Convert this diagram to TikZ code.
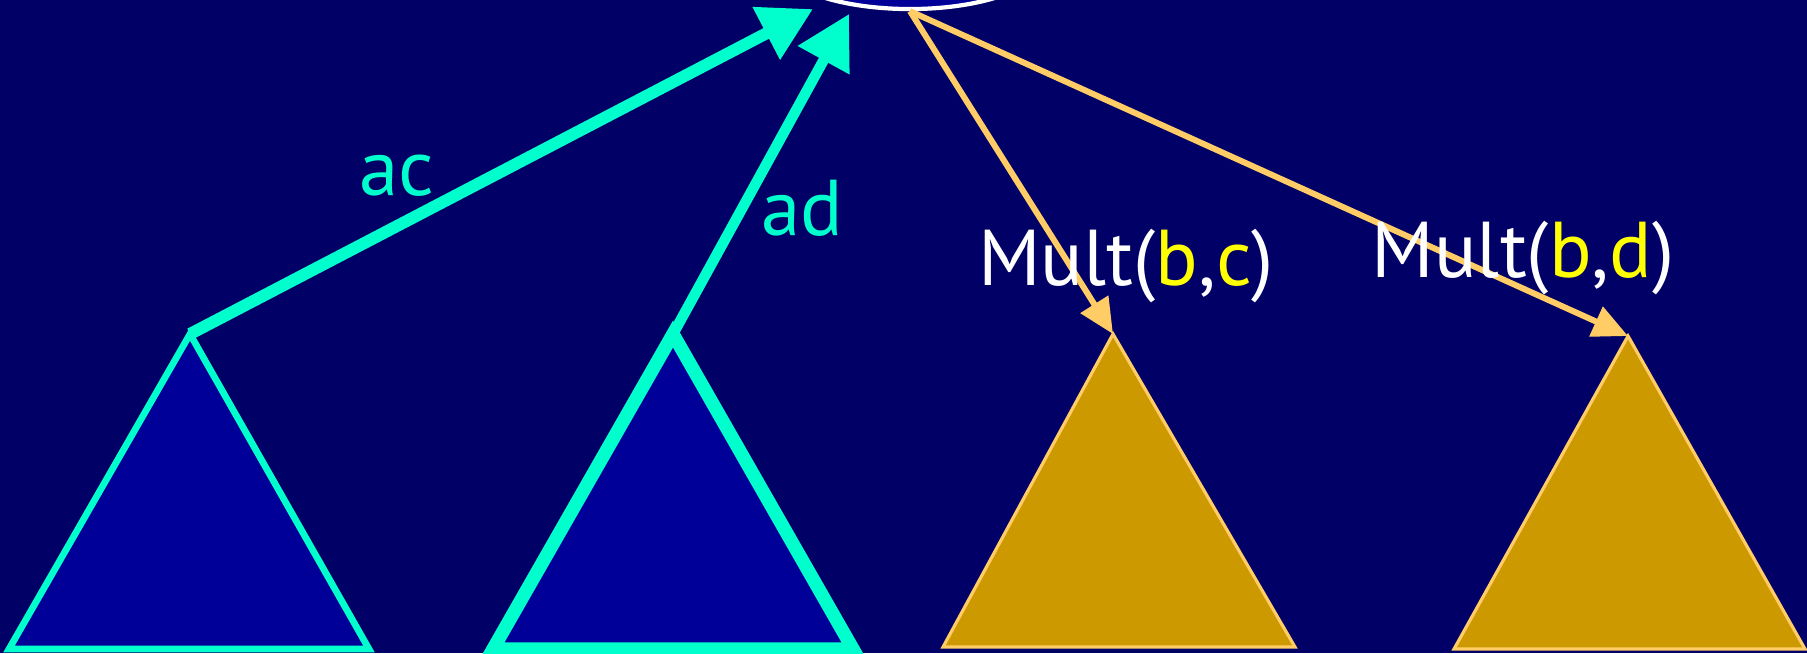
\documentclass[tikz,border=0pt]{standalone}
\usepackage{fontspec}
\setmainfont{PT Sans}
\usetikzlibrary{arrows.meta,shapes.geometric}
\definecolor{navy}{RGB}{0,0,102}
\definecolor{deepblue}{RGB}{0,0,153}
\definecolor{aqua}{RGB}{0,255,204}
\definecolor{gold}{RGB}{204,153,0}
\definecolor{sand}{RGB}{255,204,102}
\definecolor{lemon}{RGB}{255,255,0}
\tikzset{
  bluetree/.style={draw=aqua, fill=deepblue, line width=1.9pt},
  goldtree/.style={draw=sand, fill=gold, line width=0.9pt},
  upedge/.style={-{Triangle[length=15pt,width=16pt]}, aqua, line width=3.4pt},
  downedge/.style={-{Triangle[length=10pt,width=9pt]}, sand, line width=1.7pt},
  lbl/.style={font=\fontsize{22.5}{27}\selectfont, anchor=base, inner sep=0pt},
}
\begin{document}
\begin{tikzpicture}[x=0.01cm,y=-0.01cm]
  \fill[navy] (0,0) rectangle (1807,653);
  \clip (0,0) rectangle (1807,653);
  % root, mostly above the page
  \node[ellipse, draw=white, fill=deepblue, line width=1.2pt,
        minimum width=2.7cm, minimum height=1.0cm] (root) at (910,-41) {};
  \coordinate (acend) at (813,9);
  \coordinate (adend) at (849,14);
  % subtrees
  \draw[bluetree] (190,334) coordinate (t1) -- (369,649) -- (9,649) -- cycle;
  \draw[bluetree, line width=3.8pt] (673,334) coordinate (t2) -- (853,649) -- (493,649) -- cycle;
  \draw[goldtree] (1113,334) coordinate (t3) -- (1295,647) -- (943,647) -- cycle;
  \draw[goldtree] (1628,336) coordinate (t4) -- (1805,649) -- (1454,649) -- cycle;
  % edges
  \draw[upedge] (t1) -- (acend);
  \draw[upedge, line width=3pt] (t2) -- (adend);
  \draw[downedge] (root.south) -- (t3);
  \draw[downedge] (root.south) -- (t4);
  % labels
  \node[lbl, text=aqua] (aclbl) at (397,195) {ac};
  \node[lbl, text=aqua] (adlbl) at (802,235) {ad};
  \node[lbl, text=white] (bclbl) at (1126,285) {Mult(\textcolor{lemon}{b},\textcolor{lemon}{c})};
  \node[lbl, text=white] (bdlbl) at (1523,277) {Mult(\textcolor{lemon}{b},\textcolor{lemon}{d})};
\end{tikzpicture}
\end{document}
